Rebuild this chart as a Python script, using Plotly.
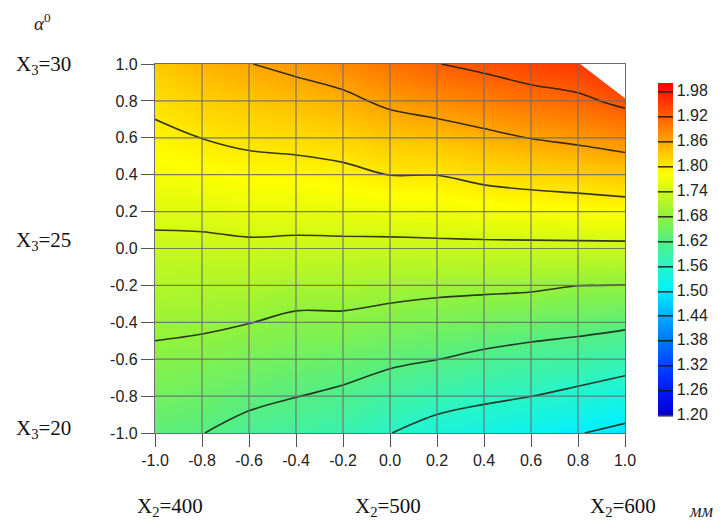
import plotly.graph_objects as go

# ---- data ----
x_vals = [-1.0, -0.8, -0.6, -0.4, -0.2, 0.0, 0.2, 0.4, 0.6, 0.8, 1.0]
y_vals = [-1.0, -0.8, -0.6, -0.4, -0.2, 0.0, 0.2, 0.4, 0.6, 0.8, 1.0]

# rows from y=-1.0 (bottom) to y=1.0 (top); columns x=-1.0 .. 1.0
z_y_m10 = [1.630, 1.621, 1.605, 1.594, 1.581, 1.561, 1.540, 1.529, 1.516, 1.502, 1.488]
z_y_m08 = [1.650, 1.643, 1.630, 1.621, 1.611, 1.594, 1.580, 1.569, 1.5605, 1.548, 1.534]
z_y_m06 = [1.670, 1.665, 1.655, 1.646, 1.641, 1.629, 1.6205, 1.609, 1.600, 1.593, 1.581]
z_y_m04 = [1.690, 1.687, 1.681, 1.671, 1.671, 1.663, 1.656, 1.650, 1.643, 1.637, 1.630]
z_y_m02 = [1.710, 1.708, 1.706, 1.700, 1.700, 1.696, 1.692, 1.690, 1.688, 1.6805, 1.6795]
z_y_p00 = [1.730, 1.730, 1.732, 1.730, 1.730, 1.729, 1.730, 1.730, 1.730, 1.730, 1.730]
z_y_p02 = [1.750, 1.752, 1.758, 1.758, 1.760, 1.764, 1.766, 1.771, 1.774, 1.777, 1.780]
z_y_p04 = [1.770, 1.776, 1.783, 1.785, 1.790, 1.8005, 1.8005, 1.811, 1.818, 1.823, 1.830]
z_y_p06 = [1.790, 1.8005, 1.809, 1.813, 1.820, 1.834, 1.839, 1.850, 1.861, 1.869, 1.880]
z_y_p08 = [1.810, 1.824, 1.834, 1.841, 1.851, 1.868, 1.879, 1.890, 1.902, 1.911, 1.930]
z_y_p10 = [1.830, 1.848, 1.859, 1.870, 1.881, 1.901, 1.919, 1.930, 1.943, 1.952, 1.975]

z_grid = [z_y_m10, z_y_m08, z_y_m06, z_y_m04, z_y_m02, z_y_p00,
          z_y_p02, z_y_p04, z_y_p06, z_y_p08, z_y_p10]

# contour levels / colorbar ticks
level_start = 1.20
level_end = 1.98
level_step = 0.06
cbar_ticks = [1.20, 1.26, 1.32, 1.38, 1.44, 1.50, 1.56, 1.62, 1.68, 1.74, 1.80, 1.86, 1.92, 1.98]
z_min, z_max = 1.20, 2.00

axis_ticks = [-1.0, -0.8, -0.6, -0.4, -0.2, 0.0, 0.2, 0.4, 0.6, 0.8, 1.0]

# region without data (white corner, top right)
missing_x = [0.809, 1.0, 1.0]
missing_y = [1.0, 1.0, 0.814]

colorscale = [
    [0.000, "rgb(0,0,205)"],
    [0.075, "rgb(0,25,255)"],
    [0.225, "rgb(0,115,255)"],
    [0.300, "rgb(0,175,255)"],
    [0.375, "rgb(0,240,255)"],
    [0.450, "rgb(40,245,200)"],
    [0.525, "rgb(85,238,130)"],
    [0.600, "rgb(145,242,60)"],
    [0.675, "rgb(210,250,20)"],
    [0.725, "rgb(255,255,0)"],
    [0.790, "rgb(255,200,0)"],
    [0.850, "rgb(255,140,0)"],
    [0.925, "rgb(255,70,0)"],
    [1.000, "rgb(255,0,0)"],
]

# colorbar placement (paper fractions)
cb_x, cb_y_bottom, cb_len = 1.07, 0.05, 0.90
cb_thick_px = 15
plot_w_px, plot_h_px = 470, 369
line_col = "rgba(25,25,15,0.85)"

fig = go.Figure()

fig.add_trace(go.Contour(
    x=x_vals, y=y_vals, z=z_grid,
    zmin=z_min, zmax=z_max, zauto=False,
    colorscale=colorscale,
    contours=dict(coloring="heatmap", start=level_start, end=level_end,
                  size=level_step, showlabels=False),
    line=dict(color=line_col, width=1.6, smoothing=1),
    colorbar=dict(
        x=cb_x, xanchor="left", xref="paper", xpad=0,
        y=cb_y_bottom, yanchor="bottom", ypad=0,
        len=cb_len, lenmode="fraction",
        thickness=cb_thick_px, outlinewidth=0,
        tickmode="array", tickvals=cbar_ticks,
        ticktext=[f"{v:.2f}" for v in cbar_ticks],
        ticks="", ticklabelposition="outside",
        tickfont=dict(family="Liberation Sans", size=16, color="#222"),
    ),
    hoverinfo="skip",
))

fig.add_trace(go.Scatter(
    x=missing_x, y=missing_y, mode="lines", fill="toself",
    fillcolor="white", line=dict(width=0, color="white"),
    showlegend=False, hoverinfo="skip",
))

shapes = []
for v in axis_ticks[1:-1]:
    shapes.append(dict(type="line", xref="x", yref="y", x0=v, x1=v,
                       y0=axis_ticks[0], y1=axis_ticks[-1],
                       line=dict(color="rgba(110,110,110,0.9)", width=1.2), layer="above"))
    shapes.append(dict(type="line", xref="x", yref="y", y0=v, y1=v,
                       x0=axis_ticks[0], x1=axis_ticks[-1],
                       line=dict(color="rgba(110,110,110,0.9)", width=1.2), layer="above"))

# contour level marks across the colorbar
for v in cbar_ticks[1:]:
    yy = cb_y_bottom + (v - z_min) / (z_max - z_min) * cb_len
    shapes.append(dict(type="line", xref="paper", yref="paper",
                       x0=cb_x, x1=cb_x + cb_thick_px / plot_w_px, y0=yy, y1=yy,
                       line=dict(color=line_col, width=1.6), layer="above"))

axis_common = dict(
    range=[-1.0, 1.0], tickmode="array", tickvals=axis_ticks,
    ticktext=[f"{v:.1f}" for v in axis_ticks],
    showgrid=False, zeroline=False,
    showline=True, mirror=True, linecolor="#6e6e6e", linewidth=1.2,
    ticks="outside", ticklen=13, tickcolor="#555", tickwidth=1.2,
    tickfont=dict(family="Liberation Sans", size=16, color="#222"),
)

serif = dict(family="Liberation Serif", size=21, color="#111")
annotations = [
    dict(text="X<sub>3</sub>=30", x=-0.238, y=0.997),
    dict(text="X<sub>3</sub>=25", x=-0.238, y=0.520),
    dict(text="X<sub>3</sub>=20", x=-0.238, y=0.011),
    dict(text="X<sub>2</sub>=400", x=0.032, y=-0.200),
    dict(text="X<sub>2</sub>=500", x=0.496, y=-0.200),
    dict(text="X<sub>2</sub>=600", x=0.996, y=-0.200),
]
for a in annotations:
    a.update(xref="paper", yref="paper", xanchor="center", yanchor="middle",
             showarrow=False, font=serif)
annotations.append(dict(text="<i>α</i><sup>0</sup>", x=-0.240, y=1.115,
                        xref="paper", yref="paper", xanchor="center", yanchor="middle",
                        showarrow=False,
                        font=dict(family="Liberation Serif", size=19, color="#222")))
annotations.append(dict(text="<i>мм</i>", x=1.162, y=-0.212,
                        xref="paper", yref="paper", xanchor="center", yanchor="middle",
                        showarrow=False,
                        font=dict(family="Liberation Serif", size=18, color="#222")))

fig.update_layout(
    width=726, height=521,
    margin=dict(l=155, r=101, t=64, b=88, autoexpand=False),
    paper_bgcolor="white", plot_bgcolor="white",
    xaxis=axis_common, yaxis=axis_common,
    shapes=shapes, annotations=annotations,
    showlegend=False,
)

fig.write_html("out.html")
